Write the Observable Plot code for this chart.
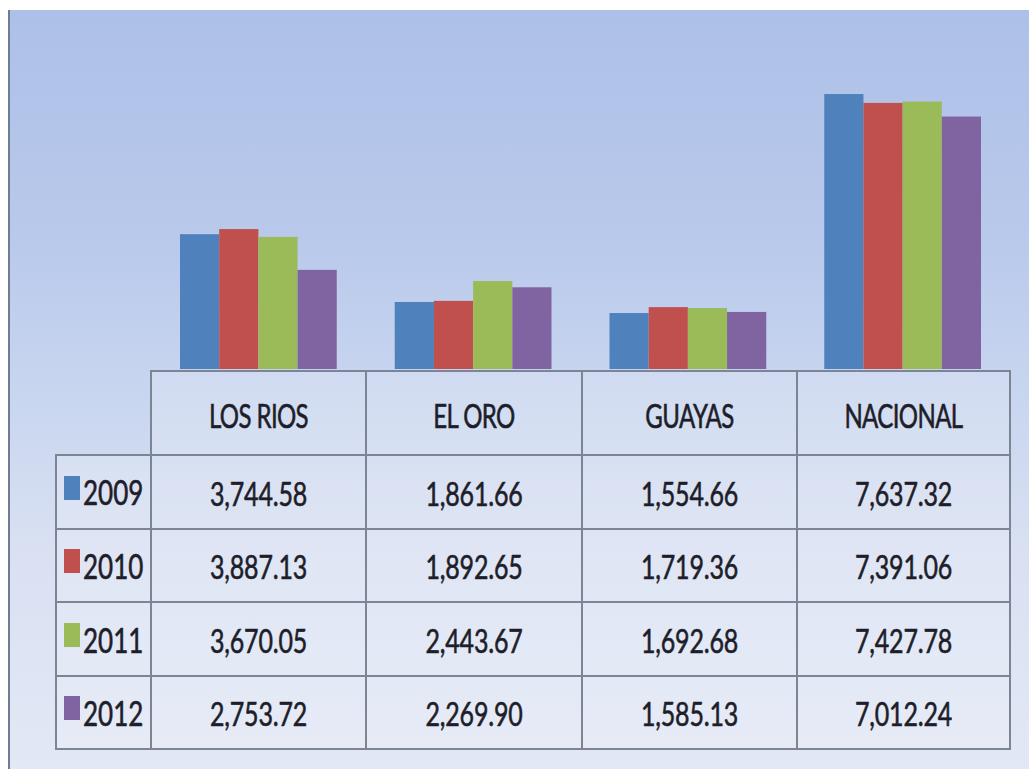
<!DOCTYPE html>
<html>
<head>
<meta charset="utf-8">
<script src="https://cdn.jsdelivr.net/npm/d3@7"></script>
<script src="https://cdn.jsdelivr.net/npm/@observablehq/plot@0.6"></script>
<style>
  body { margin: 0; background: #fff; }
  #frame { position: relative; width: 1029px; height: 769px; overflow: hidden; background: #fff; }
  #bg { position: absolute; left: 8px; top: 10px; right: 0; bottom: 0;
        border-left: 2px solid #6f7c91;
        background: linear-gradient(to bottom, #adc0e8 0%, #b9c9eb 30%, #c6d4ef 48%, #d8e0f2 70%, #e2e8f5 100%); }
  #chart { position: absolute; left: 0; top: 0; }
  #chart svg { background: transparent; }
  table { position: absolute; left: 55px; top: 370px; border-collapse: collapse; table-layout: fixed;
          font-family: Lato, "Open Sans", sans-serif; color: #1e1e2a; }
  td { border: 2px solid #7b8595; text-align: center; vertical-align: middle; padding: 0;
       background: rgba(255,255,255,0.18); }
  tr.head td { height: 82px; }
  tr.row td { height: 71.5px; }
  td.corner { border-top-style: hidden; border-left-style: hidden; background: transparent; }
  .t { display: inline-block; transform: scaleY(1.35); font-size: 25px; letter-spacing: -0.2px; -webkit-text-stroke: 0.45px #1e1e2a; }
  .h { display: inline-block; position: relative; top: 2px; transform: scaleY(1.35); font-size: 24px; letter-spacing: -0.6px; -webkit-text-stroke: 0.45px #1e1e2a; }
  td.leg { text-align: left; padding-left: 7px; }
  .sw { display: inline-block; width: 16px; height: 24px; vertical-align: middle; margin-right: 3px; position: relative; top: -4px; }
  .y { display: inline-block; transform: scaleY(1.35); font-size: 26px; vertical-align: middle; -webkit-text-stroke: 0.45px #1e1e2a; }
</style>
</head>
<body>
<div id="frame">
  <div id="bg"></div>
  <div id="chart"></div>
  <table id="tbl"></table>
</div>
<script>
const categories = ["LOS RIOS", "EL ORO", "GUAYAS", "NACIONAL"];
const years = ["2009", "2010", "2011", "2012"];
const v2009 = [3744.58, 1861.66, 1554.66, 7637.32];
const v2010 = [3887.13, 1892.65, 1719.36, 7391.06];
const v2011 = [3670.05, 2443.67, 1692.68, 7427.78];
const v2012 = [2753.72, 2269.90, 1585.13, 7012.24];
const colors = ["#4f81bd", "#c0504d", "#9bbb59", "#8064a2"];

const series = [v2009, v2010, v2011, v2012];
const data = years.flatMap((yr, i) => categories.map((c, j) => ({category: c, year: yr, value: series[i][j]})));

const chart = Plot.plot({
  width: 1029,
  height: 369,
  marginLeft: 151,
  marginRight: 19,
  marginTop: 9,
  marginBottom: 0,
  fx: {domain: categories, padding: 0, round: false, axis: null},
  x: {domain: years, paddingInner: 0, paddingOuter: 0.74, round: false, axis: null},
  y: {domain: [0, 10000], axis: null},
  color: {domain: years, range: colors},
  style: {background: "transparent", overflow: "visible"},
  marks: [
    Plot.barY(data, {fx: "category", x: "year", y: "value", fill: "year"})
  ]
});
document.getElementById("chart").appendChild(chart);

// data table
const fmt = d3.format(",.2f");
const tbl = document.getElementById("tbl");
const cg = document.createElement("colgroup");
[95, 215, 216, 215, 213].forEach(w => { const c = document.createElement("col"); c.style.width = w + "px"; cg.appendChild(c); });
tbl.appendChild(cg);
const head = document.createElement("tr");
head.className = "head";
const corner = document.createElement("td");
corner.className = "corner";
head.appendChild(corner);
categories.forEach(c => {
  const td = document.createElement("td");
  td.innerHTML = `<span class="h">${c}</span>`;
  head.appendChild(td);
});
tbl.appendChild(head);
years.forEach((yr, i) => {
  const tr = document.createElement("tr");
  tr.className = "row";
  const lg = document.createElement("td");
  lg.className = "leg";
  lg.innerHTML = `<span class="sw" style="background:${colors[i]}"></span><span class="y">${yr}</span>`;
  tr.appendChild(lg);
  series[i].forEach(v => {
    const td = document.createElement("td");
    td.innerHTML = `<span class="t">${fmt(v)}</span>`;
    tr.appendChild(td);
  });
  tbl.appendChild(tr);
});
</script>
</body>
</html>
